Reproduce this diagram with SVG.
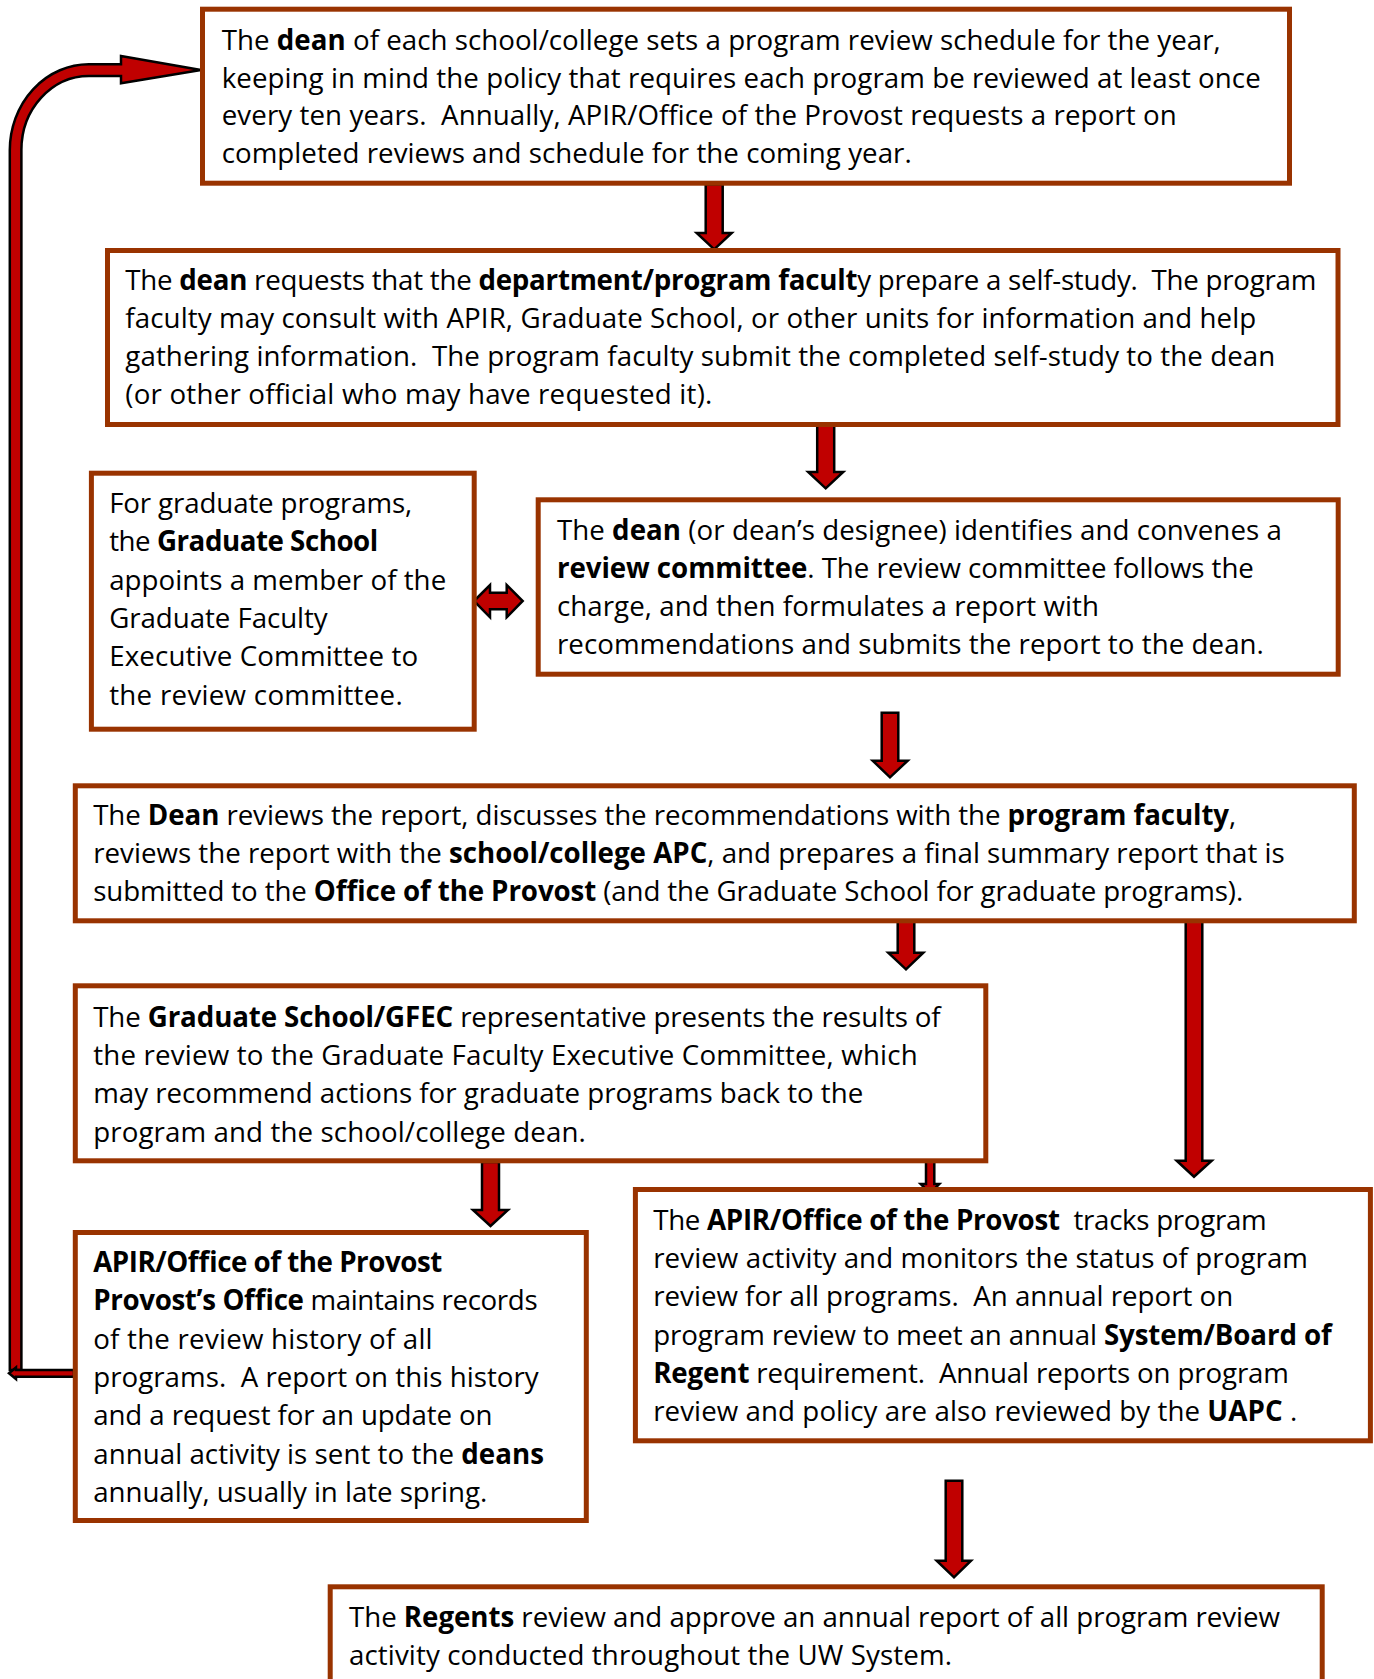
<svg xmlns="http://www.w3.org/2000/svg" width="1374" height="1679" viewBox="0 0 1374 1679">
<style>
.box{fill:#ffffff;stroke:#993300;stroke-width:5}
.t{font-family:"Open Sans","Noto Sans","Liberation Sans",sans-serif;font-size:27.7px;fill:#000;white-space:pre}
.b{font-weight:bold}
.arr{fill:#c00000;stroke:#000;stroke-width:2.5;stroke-linejoin:miter}
</style>
<rect width="1374" height="1679" fill="#ffffff"/>

<g id="connectors">
  <path class="arr" d="M9.8 1370 L9.8 150 A79 86 0 0 1 89 64.3 L121 64.3 L121 56 L201 70 L121 83.3 L121 76 L89 76 A67.6 74 0 0 0 21.4 150 L21.4 1370 Z"/>
  <path class="arr" d="M74 1370 L16 1370 L16 1367.5 L9 1373.3 L16 1379 L16 1376.7 L74 1376.7 Z"/>
  <path class="arr" d="M705.7 184.3 L722.7 184.3 L722.7 233 L731.7 233 L714.2 249.3 L696.7 233 L705.7 233 Z"/>
  <path class="arr" d="M817.2 425 L834.2 425 L834.2 472 L843.2 472 L825.7 488.3 L808.2 472 L817.2 472 Z"/>
  <path class="arr" d="M474 601 L490 585 L490 592.7 L506.7 592.7 L506.7 585 L522.7 601 L506.7 617.3 L506.7 609.3 L490 609.3 L490 617.3 Z"/>
  <path class="arr" d="M881.7 712.7 L898.3 712.7 L898.3 760.7 L907.7 760.7 L890 777.3 L872.7 760.7 L881.7 760.7 Z"/>
  <path class="arr" d="M897.7 920.7 L914.3 920.7 L914.3 952.7 L923.3 952.7 L906 969.3 L888.3 952.7 L897.7 952.7 Z"/>
  <path class="arr" d="M1185.7 920.7 L1202.3 920.7 L1202.3 1160.7 L1211.7 1160.7 L1194 1176.7 L1176.7 1160.7 L1185.7 1160.7 Z"/>
  <path class="arr" d="M926 1160.7 L934.3 1160.7 L934.3 1184 L939.3 1184 L930 1193.3 L920.7 1184 L926 1184 Z"/>
  <path class="arr" d="M482 1162 L499 1162 L499 1210 L508 1210 L490.5 1226 L473 1210 L482 1210 Z"/>
  <path class="arr" d="M945.7 1480.7 L962.3 1480.7 L962.3 1560.7 L971 1560.7 L954 1577.3 L936.7 1560.7 L945.7 1560.7 Z"/>
</g>

<g id="node-schedule">
  <rect class="box" x="202.5" y="9.2" width="1087" height="174"/>
  <text class="t" x="221.7" y="50" textLength="999">The <tspan class="b">dean</tspan> of each school/college sets a program review schedule for the year,</text>
  <text class="t" x="221.7" y="87.7" textLength="1039">keeping in mind the policy that requires each program be reviewed at least once</text>
  <text class="t" x="221.7" y="125.3" textLength="955">every ten years.  Annually, APIR/Office of the Provost requests a report on</text>
  <text class="t" x="221.7" y="163" textLength="690">completed reviews and schedule for the coming year.</text>
</g>

<g id="node-selfstudy">
  <rect class="box" x="107.5" y="250.5" width="1230.5" height="174"/>
  <text class="t" x="125.3" y="290" textLength="1191">The <tspan class="b">dean</tspan> requests that the <tspan class="b">department/program facult</tspan>y prepare a self-study.  The program</text>
  <text class="t" x="125.3" y="328" textLength="1131">faculty may consult with APIR, Graduate School, or other units for information and help</text>
  <text class="t" x="125.3" y="366" textLength="1150">gathering information.  The program faculty submit the completed self-study to the dean</text>
  <text class="t" x="125.3" y="404" textLength="587">(or other official who may have requested it).</text>
</g>

<g id="node-gradschool">
  <rect class="box" x="91.4" y="473.2" width="382.8" height="256"/>
  <text class="t" x="109.2" y="513" textLength="303">For graduate programs,</text>
  <text class="t" x="109.2" y="551.3" textLength="269">the <tspan class="b">Graduate School</tspan></text>
  <text class="t" x="109.2" y="589.6" textLength="337">appoints a member of the</text>
  <text class="t" x="109.2" y="627.9" textLength="218.5">Graduate Faculty</text>
  <text class="t" x="109.2" y="666.2" textLength="309">Executive Committee to</text>
  <text class="t" x="109.2" y="704.5" textLength="293.5">the review committee.</text>
</g>

<g id="node-committee">
  <rect class="box" x="538.2" y="499.8" width="800" height="174.4"/>
  <text class="t" x="556.9" y="540" textLength="725">The <tspan class="b">dean</tspan> (or dean’s designee) identifies and convenes a</text>
  <text class="t" x="556.9" y="578" textLength="697"><tspan class="b">review committee</tspan>. The review committee follows the</text>
  <text class="t" x="556.9" y="616" textLength="542">charge, and then formulates a report with</text>
  <text class="t" x="556.9" y="654" textLength="707">recommendations and submits the report to the dean.</text>
</g>

<g id="node-deanreview">
  <rect class="box" x="75.3" y="785.8" width="1279" height="135"/>
  <text class="t" x="93.2" y="824.5" textLength="1143">The <tspan class="b">Dean</tspan> reviews the report, discusses the recommendations with the <tspan class="b">program faculty</tspan>,</text>
  <text class="t" x="93.2" y="862.7" textLength="1191.5">reviews the report with the <tspan class="b">school/college APC</tspan>, and prepares a final summary report that is</text>
  <text class="t" x="93.2" y="901" textLength="1150">submitted to the <tspan class="b">Office of the Provost</tspan> (and the Graduate School for graduate programs).</text>
</g>

<g id="node-gfec">
  <rect class="box" x="75.3" y="985.8" width="910.5" height="175"/>
  <text class="t" x="93.2" y="1026.5" textLength="847.5">The <tspan class="b">Graduate School/GFEC</tspan> representative presents the results of</text>
  <text class="t" x="93.2" y="1064.8" textLength="824.5">the review to the Graduate Faculty Executive Committee, which</text>
  <text class="t" x="93.2" y="1103.2" textLength="770">may recommend actions for graduate programs back to the</text>
  <text class="t" x="93.2" y="1141.5" textLength="492.6">program and the school/college dean.</text>
</g>

<g id="node-records">
  <rect class="box" x="75.3" y="1232.5" width="511" height="288"/>
  <text class="t" x="93.2" y="1272" textLength="349"><tspan class="b">APIR/Office of the Provost</tspan></text>
  <text class="t" x="93.2" y="1310.3" textLength="444.4"><tspan class="b">Provost’s Office</tspan> maintains records</text>
  <text class="t" x="93.2" y="1348.6" textLength="339.4">of the review history of all</text>
  <text class="t" x="93.2" y="1386.9" textLength="445.5">programs.  A report on this history</text>
  <text class="t" x="93.2" y="1425.2" textLength="399.4">and a request for an update on</text>
  <text class="t" x="93.2" y="1463.5" textLength="450.8">annual activity is sent to the <tspan class="b">deans</tspan></text>
  <text class="t" x="93.2" y="1501.8" textLength="394">annually, usually in late spring.</text>
</g>

<g id="node-tracks">
  <rect class="box" x="635.4" y="1189.5" width="735" height="251.3"/>
  <text class="t" x="653.2" y="1230" textLength="613.5">The <tspan class="b">APIR/Office of the Provost</tspan>  tracks program</text>
  <text class="t" x="653.2" y="1268.2" textLength="654.8">review activity and monitors the status of program</text>
  <text class="t" x="653.2" y="1306.4" textLength="580">review for all programs.  An annual report on</text>
  <text class="t" x="653.2" y="1344.6" textLength="678.5">program review to meet an annual <tspan class="b">System/Board of</tspan></text>
  <text class="t" x="653.2" y="1382.8" textLength="635.8"><tspan class="b">Regent</tspan> requirement.  Annual reports on program</text>
  <text class="t" x="653.2" y="1421" textLength="644">review and policy are also reviewed by the <tspan class="b">UAPC</tspan> .</text>
</g>

<g id="node-regents">
  <rect class="box" x="330.2" y="1586.8" width="992" height="120"/>
  <text class="t" x="349" y="1627" textLength="931">The <tspan class="b">Regents</tspan> review and approve an annual report of all program review</text>
  <text class="t" x="349" y="1665" textLength="603">activity conducted throughout the UW System.</text>
</g>
</svg>
